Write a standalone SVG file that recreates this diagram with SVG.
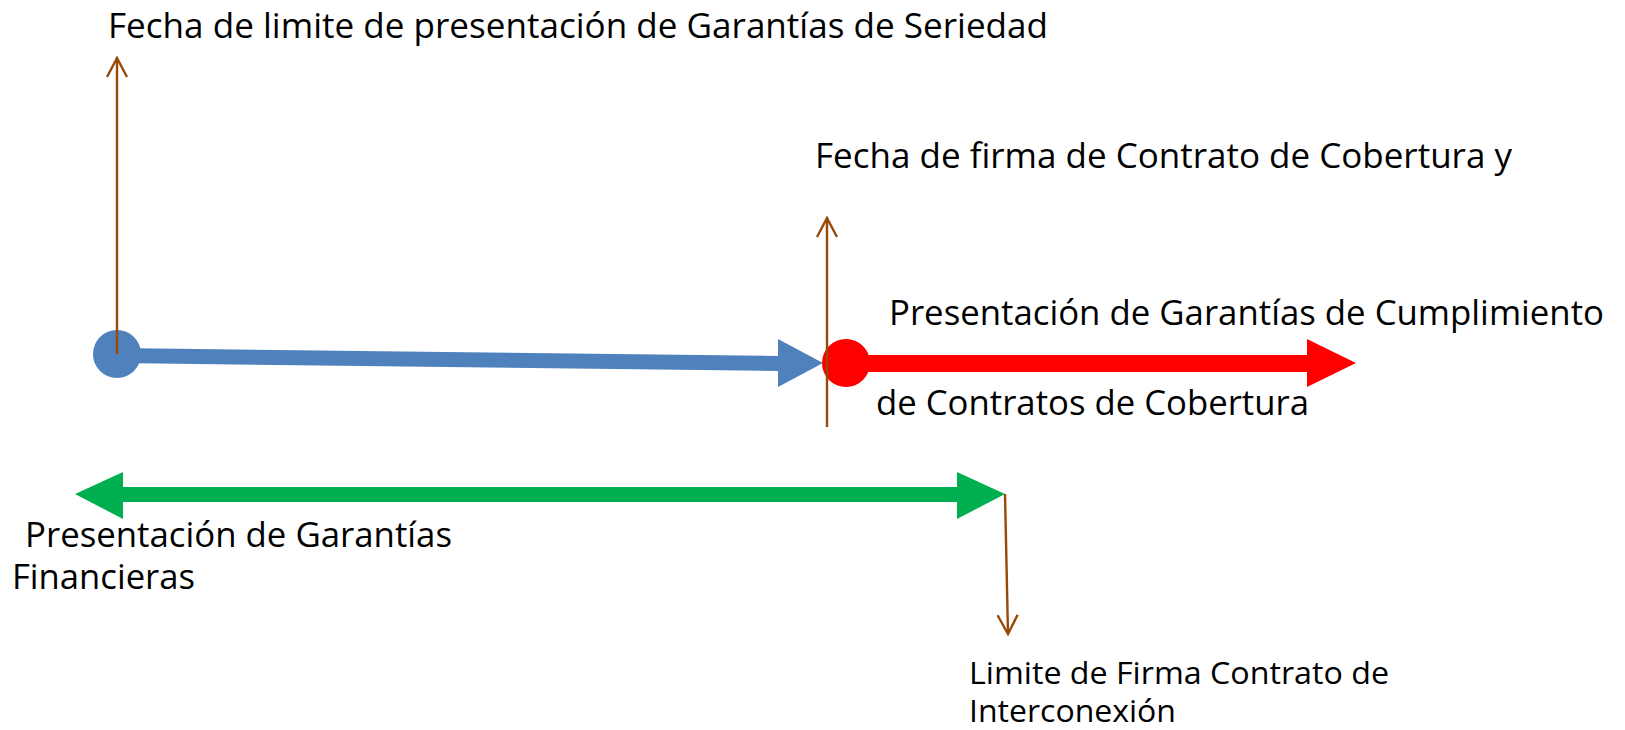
<svg xmlns="http://www.w3.org/2000/svg" width="1625" height="730" viewBox="0 0 1625 730">
<style>
.t{font-family:"Open Sans","DejaVu Sans",sans-serif;font-size:34px;fill:#000}
.c{font-family:"Open Sans","Liberation Sans",sans-serif;font-size:31px;fill:#000}
.br{stroke:#984807;stroke-width:2.4;fill:none}
</style>
<defs>
<marker id="open" viewBox="0 0 24 24" refX="21" refY="12" markerWidth="24" markerHeight="24" markerUnits="userSpaceOnUse" orient="auto">
<path d="M2 2 L21 12 L2 22" fill="none" stroke="#984807" stroke-width="2.4"/>
</marker>
</defs>
<rect width="1625" height="730" fill="#fff"/>
<g id="connectors">
<polygon id="blue-arrow" fill="#4F81BD" points="117,348 778,356 778,339 823,363 778,387 778,371 117,363"/>
<polygon id="red-arrow" fill="#FF0000" points="846,355 1307,355 1307,339 1356,363 1307,387 1307,372 846,372"/>
<polygon id="green-arrow" fill="#00B050" points="75,494 123,472 123,487 957,487 957,472 1005,494 957,519 957,502 123,502 123,519"/>
</g>
<g id="node-start"><circle cx="117" cy="354" r="24" fill="#4F81BD"/></g>
<g id="node-mid"><circle cx="846" cy="363" r="24" fill="#FF0000"/></g>
<g id="leaders">
<line class="br" x1="117" y1="354" x2="117" y2="58" marker-end="url(#open)"/>
<line class="br" x1="827" y1="427" x2="827" y2="218" marker-end="url(#open)"/>
<line class="br" x1="1005" y1="494" x2="1008" y2="634" marker-end="url(#open)"/>
</g>
<g id="label-seriedad"><text class="t" x="108" y="38" textLength="940" lengthAdjust="spacingAndGlyphs">Fecha de limite de presentación de Garantías de Seriedad</text></g>
<g id="label-firma"><text class="t" x="815" y="168" textLength="697" lengthAdjust="spacingAndGlyphs">Fecha de firma de Contrato de Cobertura y</text></g>
<g id="label-cumplimiento">
<text class="t" x="889" y="325" textLength="715" lengthAdjust="spacingAndGlyphs">Presentación de Garantías de Cumplimiento</text>
<text class="t" x="876" y="415" textLength="433" lengthAdjust="spacingAndGlyphs">de Contratos de Cobertura</text>
</g>
<g id="label-financieras">
<text class="t" x="25" y="547" textLength="427" lengthAdjust="spacingAndGlyphs">Presentación de Garantías</text>
<text class="t" x="12" y="589" textLength="183" lengthAdjust="spacingAndGlyphs">Financieras</text>
</g>
<g id="label-interconexion">
<text class="c" x="969" y="684" textLength="420" lengthAdjust="spacingAndGlyphs">Limite de Firma Contrato de</text>
<text class="c" x="969" y="722" textLength="207" lengthAdjust="spacingAndGlyphs">Interconexión</text>
</g>
</svg>
